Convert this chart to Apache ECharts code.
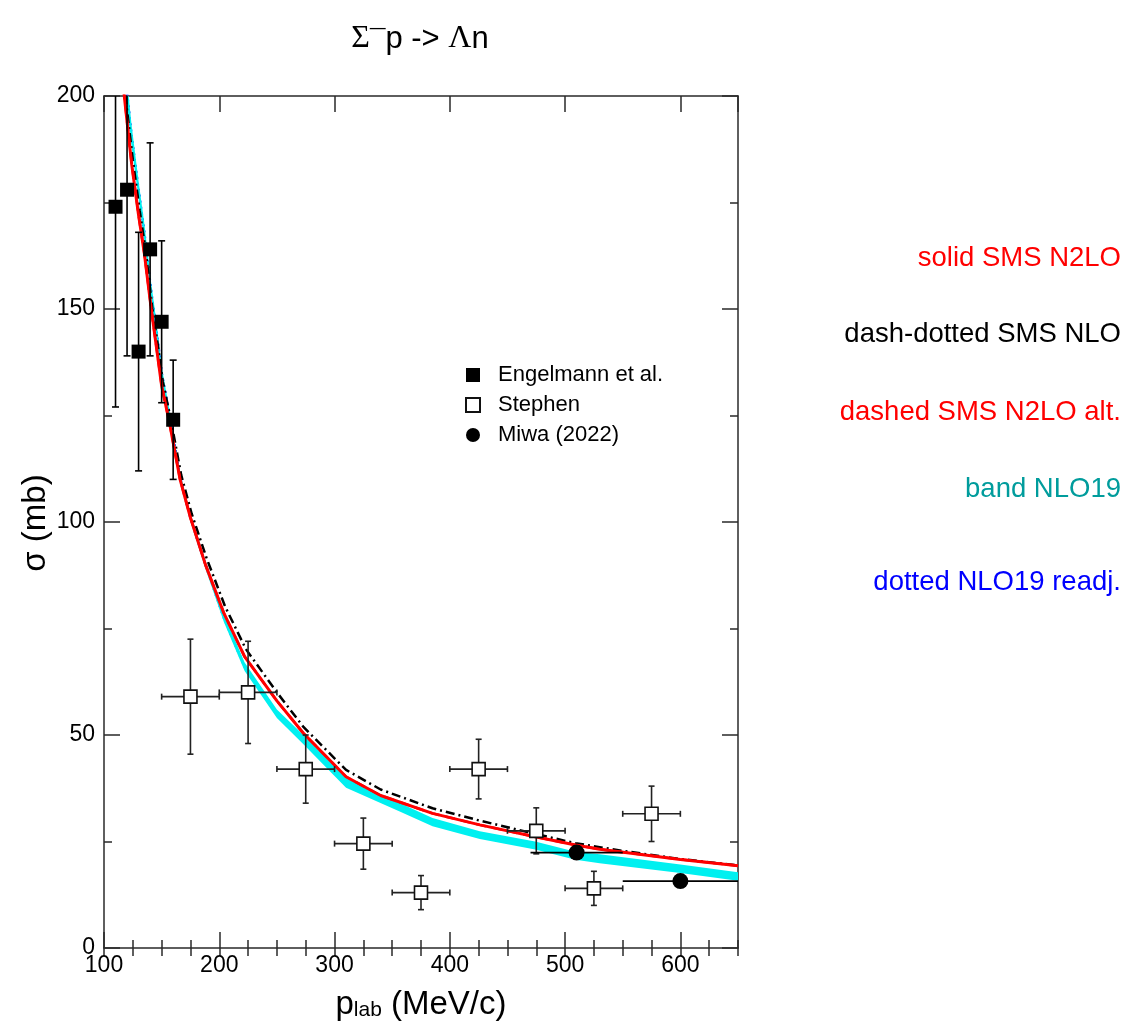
<!DOCTYPE html>
<html>
<head>
<meta charset="utf-8">
<script src="https://cdn.jsdelivr.net/npm/echarts@6/dist/echarts.min.js"></script>
<style>
  html, body { margin: 0; padding: 0; background: #ffffff; }
  #chart { width: 1127px; height: 1022px; }
</style>
</head>
<body>
<div id="chart"></div>
<script>
// Σ⁻p → Λn total cross section versus laboratory momentum

// Engelmann et al. (filled squares), symmetric vertical errors
const engelmannX = [110, 120, 130, 140, 150, 160];
const engelmannY = [174, 178, 140, 164, 147, 124];
const engelmannErr = [47, 39, 28, 25, 19, 14];

// Stephen (open squares), bin half-width and vertical errors
const stephenX = [175, 225, 275, 325, 375, 425, 475, 525, 575];
const stephenY = [59, 60, 42, 24.5, 13, 42, 27.5, 14, 31.5];
const stephenErrY = [13.5, 12, 8, 6, 4, 7, 5.4, 4, 6.5];
const stephenErrX = [25, 25, 25, 25, 25, 25, 25, 25, 25];

// Miwa (2022) (filled circles), momentum ranges
const miwaX = [510, 600];
const miwaY = [22.4, 15.7];
const miwaErrX = [40, 50];

// SMS N2LO (solid red)
const n2loP = [114, 118, 124, 130, 135, 141, 146, 150, 157, 166, 175, 188, 204, 222, 250, 273, 310, 340, 385, 426, 474, 509, 530, 600, 650];
const n2loSigma = [209, 199, 184, 172, 163, 150, 140, 132, 123, 110, 101, 90, 78.6, 68.4, 58, 50.4, 40.2, 35.8, 31.6, 28.9, 26.1, 24.2, 23.2, 20.8, 19.3];

// SMS N2LO alternative (dashed red)
const n2loAltP = [114, 118, 124, 130, 135, 141, 146, 150, 157, 166, 175, 188, 204, 222, 250, 273, 310, 340, 385, 426, 474, 509, 530, 600, 650];
const n2loAltSigma = [209, 199, 184, 172, 163, 150, 140, 132, 123, 110, 101, 90, 78.6, 68.4, 58, 50.4, 40.2, 35.8, 31.6, 28.9, 26.1, 24.2, 23.2, 20.8, 19.3];

// SMS NLO (dash-dotted black)
const nloP = [115, 119, 125, 131, 136, 142, 147, 151, 158, 167, 176, 189, 205, 223, 250, 273, 310, 340, 385, 426, 474, 509, 550, 600, 650];
const nloSigma = [209, 199, 185, 173, 164, 150, 141, 133, 124, 111, 102, 91.5, 80.2, 70.2, 60, 51.9, 41.8, 37.2, 32.8, 29.9, 26.8, 24.6, 22.8, 20.9, 19.4];

// NLO19 band (cyan)
const nlo19P = [114, 118, 124, 130, 135, 141, 146, 150, 157, 166, 175, 188, 204, 222, 250, 273, 310, 357, 385, 426, 474, 509, 530, 600, 650];
const nlo19Low = [212, 203, 188, 176, 166, 152, 142.5, 133, 123.5, 109.5, 100, 89, 76.5, 65, 54, 47.8, 37.6, 32, 28.6, 25.6, 23.1, 20.7, 19.9, 17.6, 15.8];
const nlo19High = [220, 209, 193, 180, 170, 156, 146, 136.5, 126, 111.5, 102, 91, 78.5, 67, 56, 50, 39.9, 34, 30.5, 27.4, 25, 22.6, 22.0, 19.6, 17.8];

// NLO19 readjusted (dotted blue)
const nlo19rP = [114, 118, 124, 130, 135, 141, 146, 150, 157, 166, 175, 188, 204, 222, 250, 273, 310, 357, 385, 426, 474, 509, 530, 600, 650];
const nlo19rSigma = [216, 206, 190.5, 178, 168, 154, 144, 135, 125, 110.5, 101, 90, 77.5, 66, 55, 48.9, 38.7, 33, 29.5, 26.5, 24, 21.6, 20.9, 18.6, 16.8];

// Axis ranges and steps
const xMin = 100, xMax = 650, xMajor = 100, xMinor = 25;
const yMin = 0, yMax = 200, yMajor = 50;

// Side annotations
const curveNotes = [
  { text: 'solid SMS N2LO', color: '#ff0000' },
  { text: 'dash-dotted SMS NLO', color: '#000000' },
  { text: 'dashed SMS N2LO alt.', color: '#ff0000' },
  { text: 'band NLO19', color: '#009c9c' },
  { text: 'dotted NLO19 readj.', color: '#0000ff' }
];
const legendNames = ['Engelmann et al.', 'Stephen', 'Miwa (2022)'];

const FONT = 'Liberation Sans, Arial, Helvetica, sans-serif';
const SERIF = 'Liberation Serif, DejaVu Serif, serif';
const frameColor = '#2a2a2a';
const frameLine = { color: frameColor, width: 1.5 };

const zip = (xs, ys) => xs.map((x, i) => [x, ys[i]]);

function clipRect(params) {
  const cs = params.coordSys;
  return { type: 'rect', shape: { x: cs.x, y: cs.y, width: cs.width, height: cs.height } };
}

function errorBarRenderer(color, capHalf) {
  return function (params, api) {
    const x = api.value(0), y = api.value(1), ex = api.value(2), ey = api.value(3);
    const style = { stroke: color, lineWidth: 1.6, fill: null };
    const children = [];
    if (ey > 0) {
      const top = api.coord([x, y + ey]);
      const bot = api.coord([x, y - ey]);
      children.push({ type: 'line', shape: { x1: top[0], y1: top[1], x2: bot[0], y2: bot[1] }, style });
      if (capHalf > 0) {
        children.push({ type: 'line', shape: { x1: top[0] - capHalf, y1: top[1], x2: top[0] + capHalf, y2: top[1] }, style });
        children.push({ type: 'line', shape: { x1: bot[0] - capHalf, y1: bot[1], x2: bot[0] + capHalf, y2: bot[1] }, style });
      }
    }
    if (ex > 0) {
      const l = api.coord([x - ex, y]);
      const r = api.coord([x + ex, y]);
      children.push({ type: 'line', shape: { x1: l[0], y1: l[1], x2: r[0], y2: r[1] }, style });
      if (capHalf > 0) {
        children.push({ type: 'line', shape: { x1: l[0], y1: l[1] - capHalf, x2: l[0], y2: l[1] + capHalf }, style });
        children.push({ type: 'line', shape: { x1: r[0], y1: r[1] - capHalf, x2: r[0], y2: r[1] + capHalf }, style });
      }
    }
    return { type: 'group', children, clipPath: clipRect(params) };
  };
}

function bandRenderer(params, api) {
  if (params.dataIndex !== 0) return null;
  const upper = nlo19P.map((p, i) => api.coord([p, nlo19High[i]]));
  const lower = nlo19P.map((p, i) => api.coord([p, nlo19Low[i]])).reverse();
  return {
    type: 'polygon',
    shape: { points: upper.concat(lower) },
    style: { fill: '#00f0f0', stroke: null },
    clipPath: clipRect(params)
  };
}

function majorXAxis(position, showLabels) {
  return {
    type: 'value', position, min: xMin, max: xMax, interval: xMajor,
    axisLine: { show: true, onZero: false, lineStyle: frameLine },
    axisTick: { show: true, inside: true, length: 16, lineStyle: frameLine },
    axisLabel: { show: showLabels, fontSize: 23, color: '#000', margin: 6, fontFamily: FONT, showMaxLabel: false },
    splitLine: { show: false }
  };
}
function minorXAxis(position) {
  return {
    type: 'value', position, min: xMin, max: xMax, interval: xMinor,
    axisLine: { show: false },
    axisTick: { show: true, inside: true, length: 8, lineStyle: frameLine },
    axisLabel: { show: false },
    splitLine: { show: false }
  };
}
function yAxisDef(position, showLabels) {
  return {
    type: 'value', position, min: yMin, max: yMax, interval: yMajor,
    axisLine: { show: true, onZero: false, lineStyle: frameLine },
    axisTick: { show: true, inside: true, length: 16, lineStyle: frameLine },
    minorTick: { show: true, splitNumber: 2, length: 8, lineStyle: frameLine },
    axisLabel: { show: showLabels, fontSize: 23, color: '#000', margin: 9, fontFamily: FONT },
    splitLine: { show: false },
    minorSplitLine: { show: false }
  };
}

const chart = echarts.init(document.getElementById('chart'), null, { renderer: 'canvas' });

const option = {
  backgroundColor: '#ffffff',
  animation: false,
  textStyle: { fontFamily: FONT },
  grid: { left: 104, top: 96, width: 634, height: 852, containLabel: false, outerBoundsMode: 'none' },
  xAxis: [majorXAxis('bottom', true), minorXAxis('bottom'), majorXAxis('top', false), minorXAxis('top')],
  yAxis: [yAxisDef('left', true), yAxisDef('right', false)],
  legend: {
    data: legendNames,
    orient: 'vertical',
    left: 460, top: 358,
    itemWidth: 14, itemHeight: 14, itemGap: 6,
    selectedMode: false,
    textStyle: { fontSize: 22, color: '#000', fontFamily: FONT, lineHeight: 24, padding: [0, 0, 0, 13] }
  },
  graphic: [
    {
      type: 'text', x: 420, y: 36,
      style: {
        text: '{s|Σ}{m|¯}{t|p -> }{s|Λ}{t|n}',
        align: 'center', verticalAlign: 'middle',
        rich: {
          s: { fontFamily: SERIF, fontSize: 32, fill: '#000', verticalAlign: 'bottom', lineHeight: 38 },
          m: { fontFamily: FONT, fontSize: 28, fill: '#000', verticalAlign: 'bottom', lineHeight: 38 },
          t: { fontFamily: FONT, fontSize: 31, fill: '#000', verticalAlign: 'bottom', lineHeight: 38 }
        }
      }
    },
    {
      type: 'text', x: 421, y: 994,
      style: {
        text: '{a|p}{b|lab}{a| (MeV/c)}',
        align: 'center', verticalAlign: 'middle',
        rich: {
          a: { fontFamily: FONT, fontSize: 33, fill: '#000', lineHeight: 54, verticalAlign: 'bottom' },
          b: { fontFamily: FONT, fontSize: 21, fill: '#000', lineHeight: 21, verticalAlign: 'bottom' }
        }
      }
    },
    {
      type: 'text', x: 36, y: 523, rotation: Math.PI / 2,
      style: { text: 'σ (mb)', fontFamily: FONT, fontSize: 33, fill: '#000', align: 'center', verticalAlign: 'middle' }
    }
  ].concat(curveNotes.map((n, i) => ({
    type: 'text', x: 1121, y: [258, 334, 412, 489, 582][i],
    style: { text: n.text, fontFamily: FONT, fontSize: 27.5, fill: n.color, align: 'right', verticalAlign: 'middle' }
  }))),
  series: [
    {
      name: 'NLO19 readj.', type: 'line', z: 1,
      data: zip(nlo19rP, nlo19rSigma),
      showSymbol: false, smooth: false, clip: true,
      lineStyle: { color: '#0000ff', width: 2.5, type: [2, 4] }
    },
    {
      name: 'NLO19', type: 'custom', z: 2,
      renderItem: bandRenderer,
      data: nlo19P.map((p, i) => [p, nlo19Low[i], nlo19High[i]]),
      encode: { x: 0, y: 1 }
    },
    {
      name: 'SMS NLO', type: 'line', z: 3,
      data: zip(nloP, nloSigma),
      showSymbol: false, smooth: false, clip: true,
      lineStyle: { color: '#000000', width: 2.5, type: [9, 4, 2, 4] }
    },
    {
      name: 'SMS N2LO alt.', type: 'line', z: 3,
      data: zip(n2loAltP, n2loAltSigma),
      showSymbol: false, smooth: false, clip: true,
      lineStyle: { color: '#ff0000', width: 2.5, type: [10, 6] }
    },
    {
      name: 'SMS N2LO', type: 'line', z: 4,
      data: zip(n2loP, n2loSigma),
      showSymbol: false, smooth: false, clip: true,
      lineStyle: { color: '#ff0000', width: 3, type: 'solid' }
    },
    {
      name: 'Engelmann errors', type: 'custom', z: 5,
      renderItem: errorBarRenderer('#000000', 3.5),
      data: engelmannX.map((x, i) => [x, engelmannY[i], 0, engelmannErr[i]]),
      encode: { x: 0, y: 1 }
    },
    {
      name: 'Stephen errors', type: 'custom', z: 5,
      renderItem: errorBarRenderer('#222222', 3),
      data: stephenX.map((x, i) => [x, stephenY[i], stephenErrX[i], stephenErrY[i]]),
      encode: { x: 0, y: 1 }
    },
    {
      name: 'Miwa errors', type: 'custom', z: 5,
      renderItem: errorBarRenderer('#000000', 0),
      data: miwaX.map((x, i) => [x, miwaY[i], miwaErrX[i], 0]),
      encode: { x: 0, y: 1 }
    },
    {
      name: 'Engelmann et al.', type: 'scatter', z: 6,
      data: zip(engelmannX, engelmannY),
      symbol: 'rect', symbolSize: 14,
      itemStyle: { color: '#000000', opacity: 1 }
    },
    {
      name: 'Stephen', type: 'scatter', z: 6,
      data: zip(stephenX, stephenY),
      symbol: 'rect', symbolSize: 13,
      itemStyle: { color: '#ffffff', borderColor: '#111111', borderWidth: 1.6, opacity: 1 }
    },
    {
      name: 'Miwa (2022)', type: 'scatter', z: 6,
      data: zip(miwaX, miwaY),
      symbol: 'circle', symbolSize: 16,
      itemStyle: { color: '#000000', opacity: 1 }
    }
  ]
};

chart.setOption(option);
</script>
</body>
</html>
